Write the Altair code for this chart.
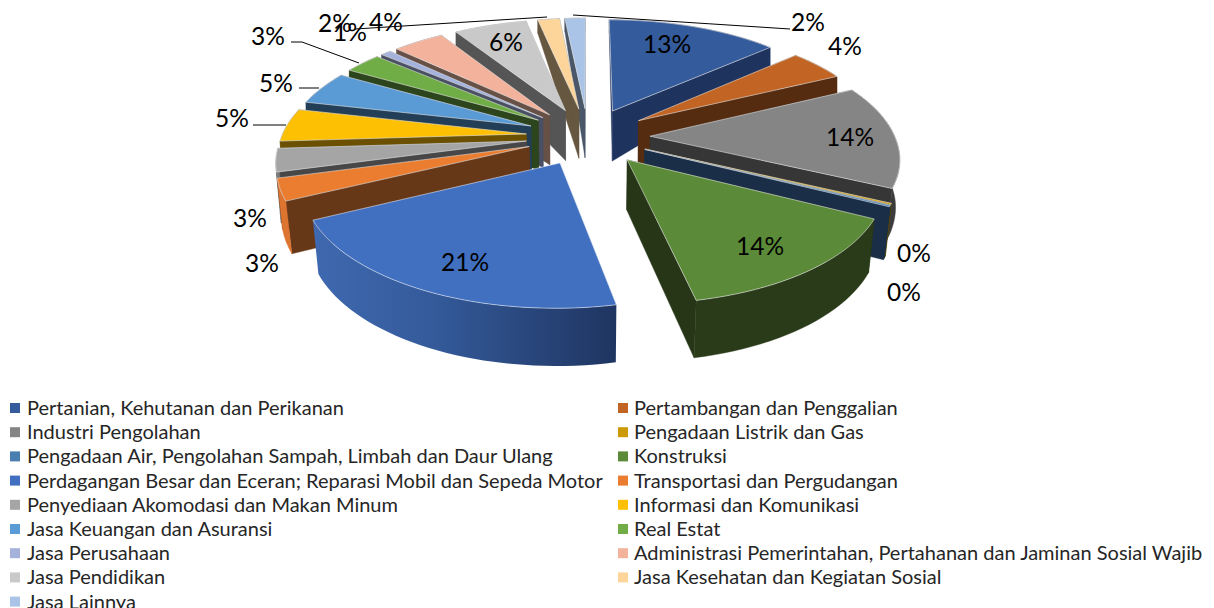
import numpy as np
import pandas as pd
import altair as alt

categories = ["Pertanian, Kehutanan dan Perikanan", "Pertambangan dan Penggalian", "Industri Pengolahan",
              "Pengadaan Listrik dan Gas", "Pengadaan Air, Pengolahan Sampah, Limbah dan Daur Ulang", "Konstruksi",
              "Perdagangan Besar dan Eceran; Reparasi Mobil dan Sepeda Motor", "Transportasi dan Pergudangan",
              "Penyediaan Akomodasi dan Makan Minum", "Informasi dan Komunikasi", "Jasa Keuangan dan Asuransi",
              "Real Estat", "Jasa Perusahaan", "Administrasi Pemerintahan, Pertahanan dan Jaminan Sosial Wajib",
              "Jasa Pendidikan", "Jasa Kesehatan dan Kegiatan Sosial", "Jasa Lainnya"]
values = [13.4, 4.4, 14.3, 0.2, 0.2, 14.3, 21.0, 3.0, 3.2, 4.6, 4.7, 2.9, 0.8, 4.0, 5.7, 1.7, 1.6]
top_colors = ["#345b9b", "#c16424", "#858585", "#cc9a06", "#4a7eb0", "#5b8b39", "#4170c1", "#eb7d31", "#a5a5a5",
              "#fdc003", "#5b9bd5", "#70ad47", "#a5b3dc", "#f2b29c", "#c9c9c9", "#fdd49a", "#a9c4e6"]
wall_colors = ["#1f335f", "#562c10", "#363636", "#5c4600", "#1a2f47", "#263616", "#1f3561", "#673818", "#474747",
               "#6a5000", "#233f57", "#2d451c", "#4a5064", "#675045", "#555555", "#665740", "#4a5768"]
outer_colors = ["#1f335f", "#562c10", "#3c3c3c", "#5c4600", "#1a2f47", "#2a3b19", "#1f3561", "#dd7530", "#7a7a7a",
                "#6a5000", "#233f57", "#2d451c", "#4a5064", "#675045", "#555555", "#665740", "#4a5768"]
pct_labels = ["13%", "4%", "14%", "0%", "0%", "14%", "21%", "3%", "3%", "5%", "5%", "3%", "1%", "4%", "6%", "2%", "2%"]
label_x = [667, 845, 850, 914, 904, 760, 465, 250, 262, 232, 276, 268, 350, 386, 506, 335, 808]
label_y = [44, 46, 137, 253, 292, 246, 262, 218, 263, 118, 83, 36, 32, 22, 42, 23, 22]
leaders = [[(291, 42), (302, 42), (359, 63)], [(299, 88), (319, 88)], [(253, 125), (286, 125)],
           [(355, 29), (547, 17)], [(573, 15), (790, 29)]]

CX, CY, A, B, K = 588.0, 136.3, 248.3, 114.7, 0.16
EXPLODE, R = 0.25, 0.985


def project(u, v):
    f = 1 - K * v
    return CX + 2.0 * np.clip(v, 0, 1) + A * u / f, CY + B * v / f


def lower(u, v):
    x, y = project(u, v)
    d = np.interp(v, [-1.3, -0.89, -0.23, 0.2, 0.67, 1.25], [12, 19, 50, 50, 54, 58])
    s = np.interp(v, [-0.5, 0.5], [1.0, 0.98])
    return CX + (x - CX) * s, y + d


def slice_geometry():
    edges = np.concatenate([[0], np.cumsum(values)]) / sum(values) * 2 * np.pi
    out = []
    for i in range(len(values)):
        a0, a1 = edges[i], edges[i + 1]
        mid = (a0 + a1) / 2
        u0, v0 = EXPLODE * np.sin(mid), -EXPLODE * np.cos(mid)
        n = max(3, int((a1 - a0) * 30))
        th = np.linspace(a0, a1, n)
        out.append((v0, i, u0, v0 + R * -np.cos(th), u0 + R * np.sin(th)))
    out.sort(key=lambda t: t[0])
    return out


rows, blue_wall, blue_top = [], [], []
poly = 0


def add(target, pts, fill, stroke, sw):
    global poly
    poly += 1
    for j, (x, y) in enumerate(pts):
        target.append(dict(poly=poly, seq=j, x=float(x), y=float(y), fill=fill, stroke=stroke, sw=sw))


for v0, i, u0, vs, us in slice_geometry():
    apex_t, apex_b = project(u0, v0), lower(u0, v0)
    top = [project(u, v) for u, v in zip(us, vs)]
    bot = [lower(u, v) for u, v in zip(us, vs)]
    is_blue = categories[i].startswith("Perdagangan")
    if not is_blue:
        add(rows, [apex_t, top[0], bot[0], apex_b], wall_colors[i], wall_colors[i], 0.4)
        add(rows, [apex_t, top[-1], bot[-1], apex_b], wall_colors[i], wall_colors[i], 0.4)
        add(rows, top + bot[::-1], outer_colors[i], outer_colors[i], 0.4)
        add(rows, [apex_t] + top, top_colors[i], "#e6e6e6", 0.6)
    else:
        add(blue_wall, top + bot[::-1], "", "", 0.0)
        add(blue_top, [apex_t] + top, top_colors[i], "#dfe6f2", 0.6)

legend_rows = []
for i, name in enumerate(categories):
    legend_rows.append(dict(name=name, fill=top_colors[i],
                            sx=15 if i % 2 == 0 else 623, tx=27 if i % 2 == 0 else 634,
                            y=408 + 24.2 * (i // 2)))

X = alt.X("x:Q", scale=alt.Scale(domain=[8, 1206]), axis=None)
Y = alt.Y("y:Q", scale=alt.Scale(domain=[608, 8]), axis=None)


def polys(data):
    return alt.Chart(pd.DataFrame(data)).mark_line(filled=True, interpolate="linear-closed").encode(
        X, Y, order="seq:Q", detail="poly:N",
        fill=alt.Fill("fill:N", scale=None), stroke=alt.Stroke("stroke:N", scale=None),
        strokeWidth=alt.StrokeWidth("sw:Q", scale=None))


gradient = alt.Gradient(gradient="linear", x1=0, x2=1, y1=0, y2=0,
                        stops=[alt.GradientStop(color="#3f69b0", offset=0), alt.GradientStop(color="#345a9a", offset=0.4),
                               alt.GradientStop(color="#1f3561", offset=1)])
blue_side = alt.Chart(pd.DataFrame(blue_wall)).mark_line(filled=True, interpolate="linear-closed", color=gradient,
                                                           fill=gradient, stroke=None).encode(
    X, Y, order="seq:Q", detail="poly:N")

leader_df = pd.DataFrame([dict(id=k, seq=j, x=p[0], y=p[1]) for k, l in enumerate(leaders) for j, p in enumerate(l)])
leader_layer = alt.Chart(leader_df).mark_line(color="#000000", strokeWidth=1).encode(X, Y, order="seq:Q", detail="id:N")

label_df = pd.DataFrame(dict(t=pct_labels, x=label_x, y=label_y))
label_layer = alt.Chart(label_df).mark_text(font="Lato", fontSize=24.5, color="#000000", align="center",
                                             baseline="middle", dy=2).encode(X, Y, text="t:N")

legend_df = pd.DataFrame(legend_rows)
swatches = alt.Chart(legend_df).mark_square(size=100, opacity=1).encode(
    alt.X("sx:Q", scale=alt.Scale(domain=[8, 1206]), axis=None), Y,
    fill=alt.Fill("fill:N", scale=None))
legend_text = alt.Chart(legend_df).mark_text(font="Lato", fontSize=20, color="#262626", align="left",
                                              baseline="middle", dy=1).encode(
    alt.X("tx:Q", scale=alt.Scale(domain=[8, 1206]), axis=None), Y, text="name:N")

chart = alt.layer(polys(rows), blue_side, polys(blue_top), leader_layer, label_layer, swatches, legend_text).properties(
    width=1198, height=600, padding=0, autosize=alt.AutoSizeParams(type="none"), background="#ffffff"
).configure_view(stroke=None)

chart.save("out.html", embed_options={"renderer": "svg", "actions": False})
